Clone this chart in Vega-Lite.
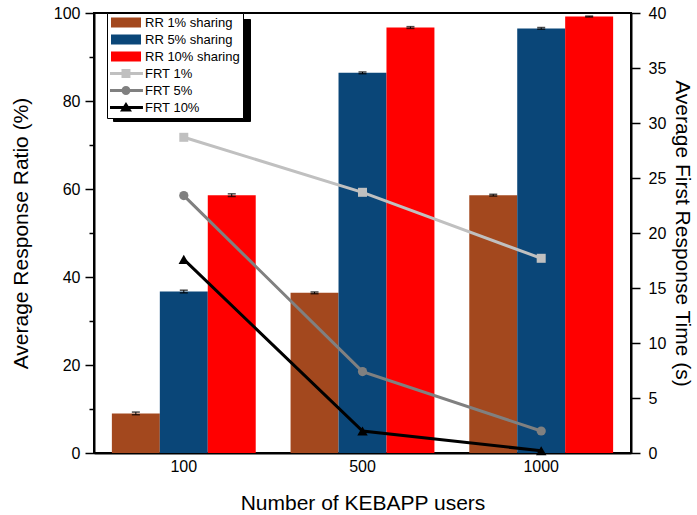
{
  "$schema": "https://vega.github.io/schema/vega-lite/v6.json",
  "width": 537,
  "height": 440,
  "autosize": {"type": "none"},
  "padding": {"left": 94, "top": 13, "right": 66, "bottom": 62},
  "config": {
    "font": "Liberation Sans",
    "view": {"stroke": "black", "strokeWidth": 2},
    "axis": {
      "domainColor": "black", "domainWidth": 2, "tickColor": "black", "tickWidth": 1.5,
      "labelColor": "black", "titleColor": "black", "labelFont": "Liberation Sans", "titleFont": "Liberation Sans",
      "labelFontSize": 16, "titleFontSize": 21, "titleFontWeight": "normal", "grid": false
    }
  },
  "datasets": {
    "rr": [
      {"users": 100, "series": "RR 1% sharing", "rr": 9.0, "lo": 8.7, "hi": 9.3},
      {"users": 100, "series": "RR 5% sharing", "rr": 36.7, "lo": 36.4, "hi": 37.0},
      {"users": 100, "series": "RR 10% sharing", "rr": 58.6, "lo": 58.3, "hi": 58.9},
      {"users": 500, "series": "RR 1% sharing", "rr": 36.4, "lo": 36.2, "hi": 36.6},
      {"users": 500, "series": "RR 5% sharing", "rr": 86.4, "lo": 86.2, "hi": 86.6},
      {"users": 500, "series": "RR 10% sharing", "rr": 96.7, "lo": 96.5, "hi": 96.9},
      {"users": 1000, "series": "RR 1% sharing", "rr": 58.6, "lo": 58.4, "hi": 58.8},
      {"users": 1000, "series": "RR 5% sharing", "rr": 96.5, "lo": 96.3, "hi": 96.7},
      {"users": 1000, "series": "RR 10% sharing", "rr": 99.2, "lo": 99.1, "hi": 99.3}
    ],
    "frt": [
      {"users": 100, "series": "FRT 1%", "frt": 28.7},
      {"users": 500, "series": "FRT 1%", "frt": 23.7},
      {"users": 1000, "series": "FRT 1%", "frt": 17.7},
      {"users": 100, "series": "FRT 5%", "frt": 23.4},
      {"users": 500, "series": "FRT 5%", "frt": 7.4},
      {"users": 1000, "series": "FRT 5%", "frt": 2.0},
      {"users": 100, "series": "FRT 10%", "frt": 17.6},
      {"users": 500, "series": "FRT 10%", "frt": 2.0},
      {"users": 1000, "series": "FRT 10%", "frt": 0.2}
    ]
  },
  "layer": [
    {
      "data": {"name": "rr"},
      "mark": {"type": "bar"},
      "encoding": {
        "x": {"field": "users", "type": "ordinal",
          "scale": {"domain": [100, 500, 1000], "paddingInner": 0.195, "paddingOuter": 0.1},
          "axis": {"title": "Number of KEBAPP users", "labelAngle": 0, "ticks": false, "labelPadding": 5, "titlePadding": 18}},
        "xOffset": {"field": "series", "type": "nominal",
          "scale": {"domain": ["RR 1% sharing", "RR 5% sharing", "RR 10% sharing"], "paddingInner": 0, "paddingOuter": 0}},
        "y": {"field": "rr", "type": "quantitative",
          "scale": {"domain": [0, 100], "nice": false},
          "axis": {"title": "Average Response Ratio (%)", "orient": "left", "values": [0, 10, 20, 30, 40, 50, 60, 70, 80, 90, 100],
            "labelExpr": "datum.value % 20 === 0 ? datum.label : ''",
            "tickSize": {"condition": {"test": "datum.value % 20 === 0", "value": 9}, "value": 5},
            "labelPadding": 5, "titlePadding": 22}},
        "color": {"field": "series", "type": "nominal",
          "scale": {
            "domain": ["RR 1% sharing", "RR 5% sharing", "RR 10% sharing", "FRT 1%", "FRT 5%", "FRT 10%"],
            "range": ["#A3481E", "#0A4678", "#FF0000", "#C0C0C0", "#808080", "#000000"]
          },
          "legend": {
            "title": null, "orient": "none", "legendX": 13, "legendY": 0, "zindex": 3,
            "fillColor": "white", "strokeColor": "black",
            "padding": 3, "rowPadding": 3, "symbolSize": 169, "symbolStrokeWidth": 0, "symbolOpacity": 1,
            "labelFont": "Liberation Sans", "labelFontSize": 13, "labelColor": "black", "labelOffset": 22
          }
        }
      }
    },
    {
      "data": {"name": "rr"},
      "mark": {"type": "rule", "color": "black", "strokeWidth": 1},
      "encoding": {
        "x": {"field": "users", "type": "ordinal"},
        "xOffset": {"field": "series", "type": "nominal"},
        "y": {"field": "lo", "type": "quantitative", "scale": {"domain": [0, 100], "nice": false}, "axis": null},
        "y2": {"field": "hi"}
      }
    },
    {
      "data": {"name": "rr"},
      "mark": {"type": "tick", "color": "black", "size": 8, "thickness": 1.5},
      "encoding": {
        "x": {"field": "users", "type": "ordinal"},
        "xOffset": {"field": "series", "type": "nominal"},
        "y": {"field": "lo", "type": "quantitative", "scale": {"domain": [0, 100], "nice": false}, "axis": null}
      }
    },
    {
      "data": {"name": "rr"},
      "mark": {"type": "tick", "color": "black", "size": 8, "thickness": 1.5},
      "encoding": {
        "x": {"field": "users", "type": "ordinal"},
        "xOffset": {"field": "series", "type": "nominal"},
        "y": {"field": "hi", "type": "quantitative", "scale": {"domain": [0, 100], "nice": false}, "axis": null}
      }
    },
    {
      "data": {"name": "rr"},
      "mark": {"type": "point", "filled": true, "opacity": 1},
      "encoding": {
        "x": {"field": "users", "type": "ordinal"},
        "y": {"field": "rr", "type": "quantitative", "scale": {"domain": [0, 100], "nice": false}, "axis": null},
        "color": {"field": "series", "type": "nominal"},
        "shape": {"field": "series", "type": "nominal",
          "scale": {
            "domain": ["RR 1% sharing", "RR 5% sharing", "RR 10% sharing", "FRT 1%", "FRT 5%", "FRT 10%"],
            "range": [
              "M-0.85,-0.77H3.765V0.77H-0.85Z",
              "M-0.85,-0.77H3.765V0.77H-0.85Z",
              "M-0.85,-0.77H3.765V0.77H-0.85Z",
              "M-1,-0.23H4.07V0.23H-1Z M0.768,-0.69H2.148V0.69H0.768Z",
              "M-1,-0.23H4.07V0.23H-1Z M2.148,0A0.69,0.69 0 1,1 0.768,0A0.69,0.69 0 1,1 2.148,0Z",
              "M-1,-0.23H4.07V0.23H-1Z M1.458,-0.85L2.38,0.62H0.536Z"
            ]
          }
        },
        "opacity": {"field": "series", "type": "nominal",
          "scale": {
            "domain": ["FRT 10%", "FRT 5%", "FRT 1%", "RR 10% sharing", "RR 5% sharing", "RR 1% sharing"],
            "range": [0, 0, 0, 0, 0, 0]
          },
          "legend": {
            "title": null, "orient": "none", "legendX": 19, "legendY": 6, "zindex": 2,
            "fillColor": "black", "strokeColor": "black",
            "padding": 3, "rowPadding": 6.4, "symbolSize": 196, "symbolStrokeWidth": 0,
            "symbolFillColor": "black", "symbolType": "square",
            "labelExpr": "''",
            "labelFont": "Liberation Sans", "labelFontSize": 13, "labelColor": "black", "labelOffset": 117
          }
        }
      }
    },
    {
      "data": {"name": "frt"},
      "mark": {"type": "line", "strokeWidth": 3},
      "encoding": {
        "x": {"field": "users", "type": "ordinal"},
        "y": {"field": "frt", "type": "quantitative",
          "scale": {"domain": [0, 40], "nice": false},
          "axis": {"orient": "right", "title": "Average First Response Time (s)",
            "values": [0, 5, 10, 15, 20, 25, 30, 35, 40], "tickSize": 9, "labelPadding": 8, "titlePadding": 6}},
        "color": {"field": "series", "type": "nominal", "legend": null}
      }
    },
    {
      "data": {"name": "frt"},
      "transform": [{"filter": "datum.series === 'FRT 1%'"}],
      "mark": {"type": "point", "filled": true, "opacity": 1, "shape": "square", "size": 81},
      "encoding": {
        "x": {"field": "users", "type": "ordinal"},
        "y": {"field": "frt", "type": "quantitative", "scale": {"domain": [0, 40], "nice": false}, "axis": null},
        "color": {"field": "series", "type": "nominal", "legend": null}
      }
    },
    {
      "data": {"name": "frt"},
      "transform": [{"filter": "datum.series === 'FRT 5%'"}],
      "mark": {"type": "point", "filled": true, "opacity": 1, "shape": "circle", "size": 85},
      "encoding": {
        "x": {"field": "users", "type": "ordinal"},
        "y": {"field": "frt", "type": "quantitative", "scale": {"domain": [0, 40], "nice": false}, "axis": null},
        "color": {"field": "series", "type": "nominal", "legend": null}
      }
    },
    {
      "data": {"name": "frt"},
      "transform": [{"filter": "datum.series === 'FRT 10%'"}],
      "mark": {"type": "point", "filled": true, "opacity": 1, "shape": "triangle-up", "size": 110},
      "encoding": {
        "x": {"field": "users", "type": "ordinal"},
        "y": {"field": "frt", "type": "quantitative", "scale": {"domain": [0, 40], "nice": false}, "axis": null},
        "color": {"field": "series", "type": "nominal", "legend": null}
      }
    }
  ],
  "resolve": {"scale": {"y": "independent"}}
}
